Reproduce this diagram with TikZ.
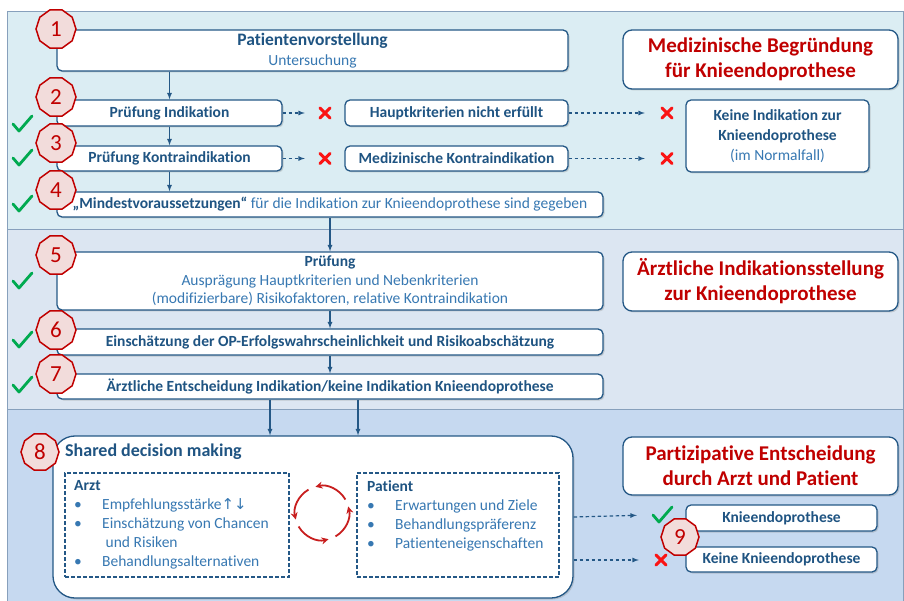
\documentclass[tikz,border=0pt]{standalone}
\usepackage{fontspec}
\setmainfont{Carlito}[Ligatures=NoCommon]
\newfontfamily\symfont{DejaVu Sans}
\usetikzlibrary{shapes.geometric,shadows,arrows.meta}

\definecolor{panelA}{RGB}{219,237,243}
\definecolor{panelB}{RGB}{220,230,242}
\definecolor{panelC}{RGB}{198,217,240}
\definecolor{panelline}{RGB}{135,160,188}
\definecolor{boxline}{RGB}{36,88,134}
\definecolor{darkblue}{RGB}{31,84,130}
\definecolor{lightblue}{RGB}{55,120,178}
\definecolor{titlered}{RGB}{192,0,0}
\definecolor{numfill}{RGB}{242,220,219}
\definecolor{okgreen}{RGB}{0,170,80}
\definecolor{nored}{RGB}{250,20,20}
\definecolor{cycred}{RGB}{200,30,30}

\newcommand\bul{\makebox[28pt][l]{\textbullet}}

\tikzset{
  box/.style={draw=boxline, line width=1.3pt, fill=white, rounded corners=5pt,
    align=center, inner sep=0pt, text=darkblue,
    font=\bfseries\fontsize{15.5}{20}\selectfont,
    drop shadow={opacity=.3, shadow xshift=1.5pt, shadow yshift=-1.5pt}},
  titlebox/.style={box, rounded corners=9pt, text=titlered,
    font=\bfseries\fontsize{21}{25}\selectfont},
  dashbox/.style={draw=boxline, line width=1.2pt, dash pattern=on 4pt off 2pt,
    inner sep=0pt},
  listtext/.style={align=left, inner sep=0pt, text=lightblue,
    font=\fontsize{15.5}{19}\selectfont},
  num/.style={regular polygon, regular polygon sides=10, minimum size=40pt,
    inner sep=0pt, draw=titlered, line width=1.5pt, fill=numfill,
    text=titlered, font=\fontsize{23}{23}\selectfont},
  okmark/.style={minimum size=26pt, inner sep=0pt, path picture={
    \draw[okgreen, line width=2.8pt, line join=round, line cap=round]
      ([shift={(-9pt,0pt)}]path picture bounding box.center) --
      ([shift={(-3pt,-7pt)}]path picture bounding box.center) --
      ([shift={(10pt,8pt)}]path picture bounding box.center);}},
  nomark/.style={minimum size=18pt, inner sep=0pt, path picture={
    \draw[nored, line width=3pt, line cap=round]
      ([shift={(-5pt,5pt)}]path picture bounding box.center) --
      ([shift={(5pt,-5pt)}]path picture bounding box.center)
      ([shift={(-5pt,-5pt)}]path picture bounding box.center) --
      ([shift={(5pt,5pt)}]path picture bounding box.center);}},
  arr/.style={->, >=latex, draw=boxline, line width=1.2pt},
  dasharr/.style={arr, dash pattern=on 3.5pt off 2.5pt},
  cyc/.style={-{Stealth[length=7pt,width=7pt]}, draw=cycred, line width=1.8pt}
}

\begin{document}
\begin{tikzpicture}[x=1pt, y=-1pt]
\useasboundingbox (0,0) rectangle (904,601);

% panels
\draw[fill=panelA, draw=panelline, line width=1pt] (7,12) rectangle (903,230);
\draw[fill=panelB, draw=panelline, line width=1pt] (7,230) rectangle (903,409);
\draw[fill=panelC, draw=panelline, line width=1pt] (7,409) rectangle (903,603);

% medizinische Begruendung
\node[box, minimum width=511pt, minimum height=41pt] (pv) at (312.5,50.5)
  {{\fontsize{17.5}{20}\selectfont Patientenvorstellung}\\{\mdseries\color{lightblue}Untersuchung}};
\node[box, minimum width=225pt, minimum height=26pt] (pi) at (169.5,113) {Prüfung Indikation};
\node[box, minimum width=225pt, minimum height=25pt] (pk) at (169.5,158.5) {Prüfung Kontraindikation};
\node[box, minimum width=546pt, minimum height=25pt] (mv) at (330,204.5)
  {„Mindestvoraussetzungen“ {\mdseries\color{lightblue}für die Indikation zur Knieendoprothese sind gegeben}};
\node[box, minimum width=223pt, minimum height=26pt] (hk) at (456.5,113) {Hauptkriterien nicht erfüllt};
\node[box, minimum width=223pt, minimum height=25pt] (mk) at (456.5,158.5) {Medizinische Kontraindikation};
\node[titlebox, minimum width=275pt, minimum height=59pt] (tmed) at (760.5,59.5)
  {Medizinische Begründung\\für Knieendoprothese};
\node[box, minimum width=183pt, minimum height=72pt] (kein) at (777.5,136)
  {Keine Indikation zur\\Knieendoprothese\\{\mdseries\color{lightblue}(im Normalfall)}};

\node[nomark] (no2) at (325,113) {};
\node[nomark] (no3) at (325,158.5) {};
\node[nomark] (no2b) at (667,113) {};
\node[nomark] (no3b) at (667,158.5) {};

\draw[arr] (pv.south -| pi.north) -- (pi.north);
\draw[arr] (pi.south) -- (pk.north);
\draw[arr] (pk.south) -- (pk.south |- mv.north);
\draw[dasharr, shorten >=11pt] (pi.east) -- (no2.west);
\draw[dasharr, shorten >=11pt] (pk.east) -- (no3.west);
\draw[dasharr, shorten >=13pt] (hk.east) -- (no2b.west);
\draw[dasharr, shorten >=13pt] (mk.east) -- (no3b.west);

% aerztliche Indikationsstellung
\node[box, minimum width=546pt, minimum height=58pt, font=\fontsize{15.5}{18.5}\selectfont] (pr) at (330,281)
  {\textbf{Prüfung}\\{\color{lightblue}Ausprägung Hauptkriterien und Nebenkriterien}\\
   {\color{lightblue}(modifizierbare) Risikofaktoren, relative Kontraindikation}};
\node[box, minimum width=546pt, minimum height=26pt] (ee) at (330,342)
  {Einschätzung der OP-Erfolgswahrscheinlichkeit und Risikoabschätzung};
\node[box, minimum width=546pt, minimum height=25pt] (ae) at (330,386.5)
  {Ärztliche Entscheidung Indikation/keine Indikation Knieendoprothese};
\node[titlebox, minimum width=275pt, minimum height=59pt] (tarzt) at (760.5,281.5)
  {Ärztliche Indikationsstellung\\zur Knieendoprothese};

\draw[arr] (mv.south) -- (pr.north);
\draw[arr] (pr.south) -- (ee.north);
\draw[arr] (ee.south) -- (ae.north);

% partizipative Entscheidung
\node[box, rounded corners=22pt, minimum width=520pt, minimum height=162pt] (sdm) at (313,517) {};
\node[anchor=west, inner sep=0pt, text=darkblue, font=\bfseries\fontsize{18}{18}\selectfont]
  (sdmtitle) at (65,452) {Shared decision making};
\node[dashbox, minimum width=224pt, minimum height=104pt] (arzt) at (177,525) {};
\node[dashbox, minimum width=202pt, minimum height=104pt] (pat) at (458,525) {};
\node[listtext, anchor=north west] (arzttxt) at (74,480)
  {{\bfseries\color{darkblue}Arzt}\\
   \bul Empfehlungsstärke{\symfont\fontsize{15}{19}\selectfont↑↓}\\
   \bul Einschätzung von Chancen\\
   \hspace*{28pt}\ und Risiken\\
   \bul Behandlungsalternativen};
\node[listtext, anchor=north west] (pattxt) at (367,480)
  {{\bfseries\color{darkblue}Patient}\\
   \bul Erwartungen und Ziele\\
   \bul Behandlungspräferenz\\
   \bul Patienteneigenschaften};
\node[titlebox, minimum width=275pt, minimum height=58pt] (tpart) at (760.5,466)
  {Partizipative Entscheidung\\durch Arzt und Patient};
\node[box, minimum width=191pt, minimum height=26pt] (knie) at (781.5,518) {Knieendoprothese};
\node[box, minimum width=191pt, minimum height=25pt] (keine) at (781.5,559.5) {Keine Knieendoprothese};

\coordinate (cycc) at (322,513);
\foreach \a in {30,120,210,300}
  \draw[cyc] ([shift={(-\a:27)}]cycc) arc[start angle=-\a, end angle=-\a-74, radius=27];

\node[okmark] (ok9) at (662,515) {};
\node[nomark] (no9) at (661,560) {};

\draw[arr] ([xshift=-60pt]ae.south) -- ([xshift=-60pt]ae.south |- sdm.north);
\draw[arr] ([xshift=28pt]ae.south) -- ([xshift=28pt]ae.south |- sdm.north);
\draw[dasharr, shorten >=12pt] (sdm.east) -- (ok9.west);
\draw[dasharr, shorten >=13pt] (sdm.east |- no9) -- (no9.west);

% Haken
\node[okmark] (ok2) at (22,124) {};
\node[okmark] (ok3) at (22,158) {};
\node[okmark] (ok4) at (22,204) {};
\node[okmark] (ok5) at (22,281) {};
\node[okmark] (ok6) at (22,340) {};
\node[okmark] (ok7) at (22,385) {};

% Nummern
\node[num] (n1) at (56,29) {1};
\node[num] (n2) at (56,97) {2};
\node[num] (n3) at (56,143) {3};
\node[num] (n4) at (56,190) {4};
\node[num] (n5) at (56,255) {5};
\node[num] (n6) at (56,330) {6};
\node[num] (n7) at (56,374) {7};
\node[num, minimum size=38pt] (n8) at (40,452) {8};
\node[num, minimum size=38pt] (n9) at (680,537) {9};
\end{tikzpicture}
\end{document}
